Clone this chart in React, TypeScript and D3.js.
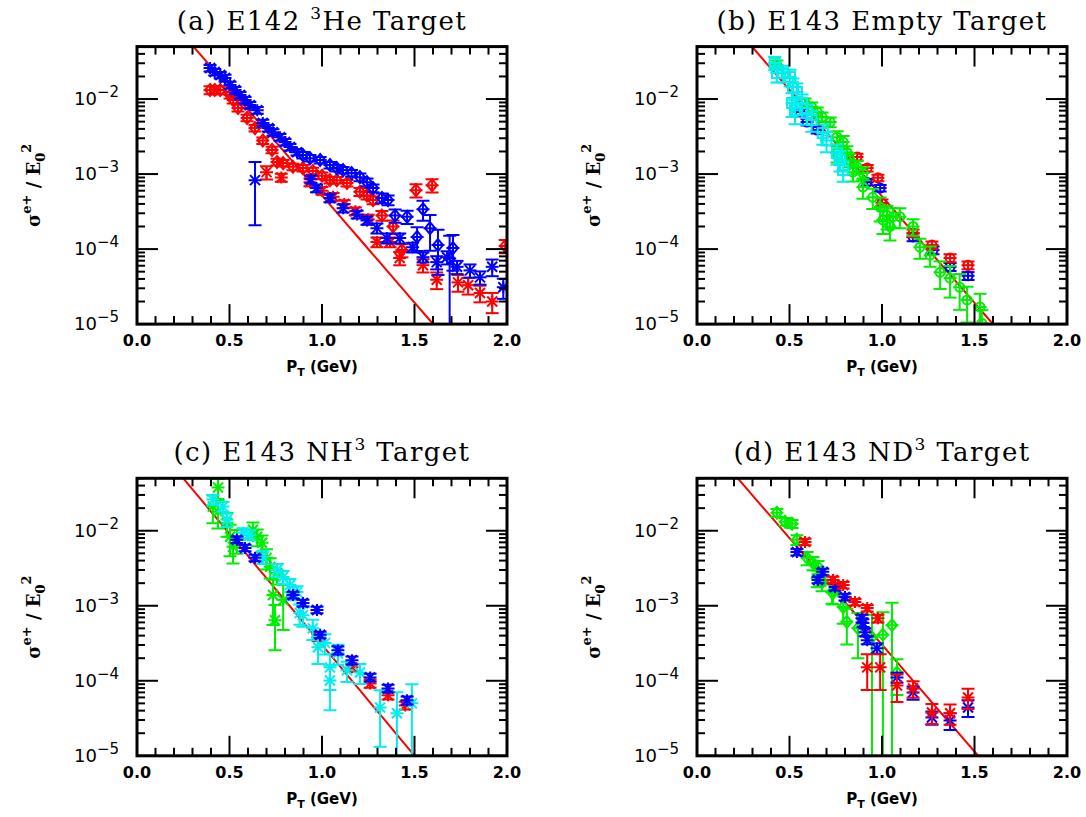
import React from 'react';
import * as d3 from 'd3';

type Pt = [number, number, number]; // [pT (GeV), sigma/E0^2, relative error]

// ---------- axes ----------
const xMajorTicks = [0, 0.5, 1.0, 1.5, 2.0];
const xTickLabels = ['0.0', '0.5', '1.0', '1.5', '2.0'];
const yDecades = [-2, -3, -4, -5];
const yDomain: [number, number] = [1e-5, 0.05];
const xDomain: [number, number] = [0, 2];

// ---------- fit lines: log10(v) = a + b*pT ----------
const fitA = { a: -0.43, b: -2.855 };
const fitB = { a: -0.458, b: -2.839 };
const fitC = { a: -0.561, b: -2.959 };
const fitD = { a: -0.675, b: -2.845 };

// ---------- (a) E142 3He ----------
const aBlueStar: Pt[] = [
  [0.395, 0.0259, 0.1], [0.42, 0.0229, 0.1], [0.45, 0.0209, 0.1], [0.476, 0.0191, 0.1],
  [0.503, 0.0154, 0.1], [0.53, 0.0132, 0.1], [0.557, 0.0113, 0.1], [0.584, 0.0097, 0.1],
  [0.61, 0.0083, 0.1], [0.65, 0.0071, 0.1], [0.68, 0.0048, 0.1], [0.71, 0.0041, 0.1],
  [0.735, 0.0036, 0.1], [0.773, 0.0031, 0.1], [0.8, 0.00267, 0.1], [0.827, 0.00229, 0.1],
  [0.865, 0.00196, 0.1], [0.638, 0.00083, 0.75],
  [0.94, 0.00085, 0.12], [0.97, 0.00065, 0.12], [1.043, 0.00048, 0.12], [1.114, 0.00035, 0.12],
  [1.19, 0.00029, 0.12], [1.243, 0.00024, 0.12], [1.297, 0.00019, 0.15], [1.35, 0.00014, 0.15],
  [1.42, 0.00014, 0.15], [1.49, 0.000106, 0.15], [1.546, 0.000078, 0.15], [1.62, 0.000067, 0.2],
  [1.676, 0.000078, 0.2], [1.73, 0.000058, 0.2], [1.8, 0.000052, 0.2], [1.854, 0.000042, 0.2],
  [1.92, 0.000058, 0.25], [1.98, 0.000031, 0.3],
];
const aBlueDiamond: Pt[] = [
  [0.897, 0.00179, 0.1], [0.935, 0.00163, 0.1], [0.99, 0.00154, 0.1], [1.043, 0.00132, 0.1],
  [1.08, 0.0012, 0.1], [1.114, 0.00113, 0.1], [1.16, 0.00103, 0.1], [1.205, 0.00091, 0.12],
  [1.243, 0.00078, 0.12], [1.276, 0.00065, 0.12], [1.324, 0.00048, 0.15], [1.357, 0.00045, 0.15],
  [1.395, 0.00028, 0.2], [1.46, 0.00027, 0.2], [1.514, 0.000145, 0.35], [1.546, 0.00034, 0.3],
  [1.584, 0.00019, 0.5], [1.627, 0.000113, 0.6], [1.69, 0.000075, 1.0], [1.708, 0.000103, 0.5],
];
const aRedDiamond: Pt[] = [
  [0.395, 0.0132, 0.12], [0.42, 0.0132, 0.12], [0.45, 0.0132, 0.12], [0.503, 0.0113, 0.1],
  [0.52, 0.0097, 0.1], [0.546, 0.0076, 0.1], [0.595, 0.0056, 0.1], [0.638, 0.0041, 0.1],
  [0.68, 0.0028, 0.1], [0.73, 0.0021, 0.1], [0.757, 0.00145, 0.1], [0.79, 0.0014, 0.1],
  [0.843, 0.00125, 0.1], [0.897, 0.0012, 0.1], [0.95, 0.0011, 0.1], [1.0, 0.00095, 0.1],
  [1.043, 0.00083, 0.1], [1.08, 0.00083, 0.1], [1.135, 0.00076, 0.1], [1.205, 0.00058, 0.12],
  [1.243, 0.00052, 0.12], [1.276, 0.00045, 0.12], [1.324, 0.00028, 0.15], [1.384, 0.0002, 0.2],
  [1.432, 0.000097, 0.2], [1.508, 0.00061, 0.2], [1.595, 0.00071, 0.2], [1.99, 0.00011, 0.2],
];
const aRedStar: Pt[] = [
  [0.70, 0.00106, 0.2], [0.78, 0.0009, 0.12], [0.935, 0.00078, 0.12], [1.0, 0.0006, 0.12],
  [1.06, 0.0005, 0.12], [1.12, 0.0004, 0.12], [1.18, 0.00032, 0.12], [1.25, 0.00025, 0.15],
  [1.297, 0.000124, 0.15], [1.368, 0.000124, 0.15], [1.42, 0.000076, 0.2], [1.546, 0.000061, 0.2],
  [1.62, 0.000039, 0.25], [1.735, 0.000036, 0.25], [1.79, 0.000033, 0.25], [1.854, 0.000026, 0.25],
  [1.92, 0.00002, 0.3],
];

// ---------- (b) E143 Empty ----------
const bCyanSquare: Pt[] = [
  [0.42, 0.0302, 0.2], [0.432, 0.0222, 0.25], [0.465, 0.0222, 0.25], [0.503, 0.0196, 0.25],
  [0.519, 0.0144, 0.3], [0.54, 0.0124, 0.3], [0.514, 0.00885, 0.35], [0.568, 0.00885, 0.3],
  [0.53, 0.0071, 0.35], [0.595, 0.0065, 0.3], [0.62, 0.00525, 0.3], [0.68, 0.00352, 0.3],
  [0.70, 0.0028, 0.3], [0.757, 0.0019, 0.3], [0.773, 0.00154, 0.3], [0.79, 0.00113, 0.3],
];
const bGreenCircle: Pt[] = [
  [0.432, 0.0284, 0.15], [0.584, 0.00885, 0.15], [0.62, 0.00782, 0.15], [0.65, 0.0067, 0.15],
  [0.676, 0.00575, 0.15], [0.72, 0.00494, 0.15], [0.757, 0.0031, 0.2], [0.79, 0.00267, 0.2],
  [0.757, 0.0019, 0.25], [0.81, 0.00196, 0.2], [0.827, 0.00154, 0.2], [0.865, 0.00124, 0.2],
  [0.897, 0.00103, 0.2], [0.843, 0.00106, 0.25], [0.897, 0.00067, 0.3], [0.95, 0.00049, 0.3],
  [0.99, 0.00036, 0.35], [1.005, 0.000244, 0.35], [1.027, 0.00028, 0.35], [1.043, 0.0002, 0.35],
  [1.06, 0.00027, 0.3], [1.097, 0.00027, 0.3], [1.168, 0.0002, 0.25], [1.205, 0.000106, 0.3],
  [1.26, 0.000083, 0.3], [1.314, 0.000049, 0.4], [1.368, 0.000041, 0.45], [1.42, 0.000031, 0.5],
  [1.46, 0.000021, 0.5], [1.53, 0.0000169, 0.5], [1.54, 0.0000103, 0.5],
];
const bBlueCircle: Pt[] = [
  [0.557, 0.0067, 0.1], [0.595, 0.00494, 0.1], [0.65, 0.00386, 0.1], [0.92, 0.00078, 0.1],
  [0.99, 0.00065, 0.1], [1.168, 0.000145, 0.12], [1.276, 0.000097, 0.12], [1.368, 0.000058, 0.12],
  [1.465, 0.000044, 0.12],
];
const bRedCircle: Pt[] = [
  [0.865, 0.00169, 0.1], [0.92, 0.0012, 0.1], [0.978, 0.00089, 0.1], [1.0, 0.00041, 0.12],
  [1.168, 0.000163, 0.12], [1.27, 0.000113, 0.12], [1.368, 0.000076, 0.12], [1.465, 0.000061, 0.12],
];

// ---------- (c) E143 NH3 ----------
const cGreenStar: Pt[] = [
  [0.438, 0.0377, 0.3], [0.41, 0.021, 0.4], [0.438, 0.0179, 0.4], [0.486, 0.0128, 0.35],
  [0.503, 0.0083, 0.45], [0.519, 0.0061, 0.4], [0.54, 0.0076, 0.35], [0.627, 0.0103, 0.25],
  [0.65, 0.0083, 0.25], [0.676, 0.0069, 0.25], [0.70, 0.00435, 0.3], [0.72, 0.0033, 0.3],
  [0.757, 0.00274, 0.3], [0.735, 0.00139, 0.6], [0.79, 0.00119, 0.6], [0.746, 0.00064, 0.6],
];
const cCyanStar: Pt[] = [
  [0.41, 0.026, 0.15], [0.465, 0.021, 0.15], [0.486, 0.014, 0.2], [0.573, 0.0094, 0.15],
  [0.61, 0.0088, 0.15], [0.68, 0.0045, 0.2], [0.757, 0.003, 0.2], [0.79, 0.00242, 0.2],
  [0.827, 0.00189, 0.2], [0.865, 0.00152, 0.2], [0.843, 0.00148, 0.2], [0.88, 0.0008, 0.3],
  [0.897, 0.00075, 0.3], [0.95, 0.0005, 0.3], [0.978, 0.00028, 0.4], [1.016, 0.00032, 0.3],
  [1.043, 0.000151, 0.5], [1.043, 0.000101, 0.6], [1.086, 0.000233, 0.3], [1.135, 0.000138, 0.3],
  [1.205, 0.000129, 0.3], [1.314, 0.000044, 0.7], [1.405, 0.000037, 0.9], [1.486, 0.00005, 0.8],
];
const cBlueStar: Pt[] = [
  [0.54, 0.0076, 0.1], [0.584, 0.0059, 0.1], [0.638, 0.00435, 0.1], [0.843, 0.00139, 0.1],
  [0.897, 0.00109, 0.1], [0.973, 0.00088, 0.1], [0.99, 0.00041, 0.1], [1.086, 0.000255, 0.12],
  [1.162, 0.000188, 0.12], [1.26, 0.000111, 0.12], [1.357, 0.000079, 0.12], [1.46, 0.000055, 0.12],
];
const cRedStar: Pt[] = [
  [0.978, 0.00038, 0.1], [1.162, 0.000151, 0.12], [1.26, 0.000092, 0.12], [1.357, 0.000064, 0.12],
  [1.45, 0.000047, 0.12],
];

// ---------- (d) E143 ND3 ----------
const dGreenDiamond: Pt[] = [
  [0.432, 0.0174, 0.12], [0.476, 0.0132, 0.12], [0.514, 0.0124, 0.12], [0.54, 0.0076, 0.15],
  [0.595, 0.00435, 0.2], [0.627, 0.00373, 0.2], [0.654, 0.0033, 0.2], [0.65, 0.00235, 0.25],
  [0.676, 0.00208, 0.25], [0.665, 0.00242, 0.25], [0.73, 0.00152, 0.3], [0.735, 0.00148, 0.3],
  [0.79, 0.00096, 0.4], [0.81, 0.00061, 0.5], [0.87, 0.0005, 0.6], [0.946, 0.00038, 1.0],
  [1.005, 0.00041, 1.0], [1.054, 0.00055, 1.0], [1.081, 0.000129, 0.5],
];
const dRedStar: Pt[] = [
  [0.584, 0.0071, 0.1], [0.735, 0.00221, 0.1], [0.79, 0.00189, 0.1], [0.854, 0.00112, 0.1],
  [0.92, 0.00093, 0.1], [0.978, 0.00068, 0.12], [0.92, 0.000151, 0.5], [0.99, 0.000151, 0.5],
  [1.081, 0.0000867, 0.4], [1.168, 0.000079, 0.25], [1.27, 0.0000378, 0.3], [1.368, 0.000037, 0.3],
  [1.465, 0.00006, 0.3],
];
const dBlueStar: Pt[] = [
  [0.54, 0.0052, 0.1], [0.654, 0.00221, 0.1], [0.68, 0.00283, 0.1], [0.746, 0.00178, 0.1],
  [0.80, 0.00131, 0.1], [0.897, 0.00059, 0.12], [0.892, 0.00068, 0.12], [0.908, 0.000445, 0.12],
  [0.92, 0.000348, 0.12], [0.973, 0.000272, 0.15], [1.081, 0.000111, 0.15], [1.168, 0.00007, 0.2],
  [1.27, 0.0000324, 0.2], [1.368, 0.0000295, 0.25], [1.465, 0.000044, 0.25],
];

const BLUE = '#0000ff';
const RED = '#ff0000';
const GREEN = '#00ee00';
const CYAN = '#00eeee';

type Kind = 'diamond' | 'star' | 'circle' | 'square';
interface Series { data: Pt[]; color: string; kind: Kind }
interface Panel {
  id: string; label: string; sup: string; rest: string;
  x0: number; y0: number; fit: { a: number; b: number }; series: Series[];
}

const W = 370, H = 277.5;
const panels: Panel[] = [
  { id: 'a', label: '(a) E142 ', sup: '3', rest: 'He Target', x0: 137, y0: 46.6, fit: fitA,
    series: [
      { data: aRedStar, color: RED, kind: 'star' },
      { data: aRedDiamond, color: RED, kind: 'diamond' },
      { data: aBlueDiamond, color: BLUE, kind: 'diamond' },
      { data: aBlueStar, color: BLUE, kind: 'star' },
    ] },
  { id: 'b', label: '(b) E143 Empty Target', sup: '', rest: '', x0: 697, y0: 46.6, fit: fitB,
    series: [
      { data: bBlueCircle, color: BLUE, kind: 'circle' },
      { data: bRedCircle, color: RED, kind: 'circle' },
      { data: bGreenCircle, color: GREEN, kind: 'circle' },
      { data: bCyanSquare, color: CYAN, kind: 'square' },
    ] },
  { id: 'c', label: '(c) E143 NH', sup: '3', rest: ' Target', x0: 137, y0: 478.3, fit: fitC,
    series: [
      { data: cGreenStar, color: GREEN, kind: 'star' },
      { data: cRedStar, color: RED, kind: 'star' },
      { data: cCyanStar, color: CYAN, kind: 'star' },
      { data: cBlueStar, color: BLUE, kind: 'star' },
    ] },
  { id: 'd', label: '(d) E143 ND', sup: '3', rest: ' Target', x0: 697, y0: 478.3, fit: fitD,
    series: [
      { data: dGreenDiamond, color: GREEN, kind: 'diamond' },
      { data: dBlueStar, color: BLUE, kind: 'star' },
      { data: dRedStar, color: RED, kind: 'star' },
    ] },
];

function marker(kind: Kind, cx: number, cy: number, color: string, key: string) {
  const s = 5;
  const common = { stroke: color, strokeWidth: 2, fill: 'none' } as const;
  if (kind === 'diamond')
    return <path key={key} {...common} d={`M${cx},${cy - s - 1}L${cx + s},${cy}L${cx},${cy + s + 1}L${cx - s},${cy}Z`} />;
  if (kind === 'circle') return <circle key={key} {...common} cx={cx} cy={cy} r={4.5} />;
  if (kind === 'square') return <rect key={key} {...common} x={cx - 5} y={cy - 5} width={10} height={10} />;
  return <path key={key} {...common} d={`M${cx - s},${cy - s}L${cx + s},${cy + s}M${cx - s},${cy + s}L${cx + s},${cy - s}M${cx},${cy - s - 1}L${cx},${cy + s + 1}`} />;
}

function PanelView({ p }: { p: Panel }) {
  const x1 = p.x0 + W, y1 = p.y0 + H;
  const x = d3.scaleLinear().domain(xDomain).range([p.x0, x1]);
  const y = d3.scaleLog().domain(yDomain).range([y1, p.y0]);
  const minorX = d3.range(0, 2.0001, 0.1).filter(v => Math.abs(v * 2 - Math.round(v * 2)) > 1e-6);
  const minorY: number[] = [];
  for (let d = -5; d <= -2; d++) for (let m = 2; m <= 9; m++) { const v = m * Math.pow(10, d); if (v <= yDomain[1]) minorY.push(v); }
  const clipId = `clip-${p.id}`;
  const fitLine = d3.line<number>().x(v => x(v)).y(v => y(Math.pow(10, p.fit.a + p.fit.b * v)));
  const pts = d3.range(0, 2.0001, 0.05);
  const capW = 6.5;
  const cx = p.x0 + W / 2;
  const cy = p.y0 + H / 2;
  return (
    <g>
      <defs><clipPath id={clipId}><rect x={p.x0} y={p.y0} width={W} height={H} /></clipPath></defs>
      {/* title */}
      <text x={cx} y={p.y0 - 17} textAnchor="middle" fontFamily="DejaVu Serif" fontSize={26} letterSpacing={1.4}>
        {p.label}{p.sup && <tspan dy={-11} fontSize={17}>{p.sup}</tspan>}{p.rest && <tspan dy={p.sup ? 11 : 0}>{p.rest}</tspan>}
      </text>
      {/* data */}
      <g clipPath={`url(#${clipId})`}>
        <path d={fitLine(pts) || ''} stroke={RED} strokeWidth={2} fill="none" />
        {p.series.map((s, si) => (
          <g key={si}>
            {s.data.map((d, i) => {
              const px = x(d[0]);
              const py = y(d[1]);
              const hiV = d[1] * (1 + d[2]);
              const loV = d[1] * (1 - d[2]);
              const yh = y(hiV);
              const yl = loV > 0 ? y(Math.max(loV, 1e-7)) : y1 + 10;
              return (
                <g key={i} stroke={s.color} strokeWidth={2}>
                  <line x1={px} x2={px} y1={yh} y2={yl} />
                  <line x1={px - capW} x2={px + capW} y1={yh} y2={yh} />
                  {loV > 0 && <line x1={px - capW} x2={px + capW} y1={yl} y2={yl} />}
                  <line x1={px - capW} x2={px + capW} y1={py} y2={py} />
                  {marker(s.kind, px, py, s.color, `m${i}`)}
                </g>
              );
            })}
          </g>
        ))}
      </g>
      {/* ticks */}
      <g stroke="#000" strokeWidth={2}>
        {xMajorTicks.map(t => (
          <g key={`xM${t}`}>
            <line x1={x(t)} x2={x(t)} y1={y1} y2={y1 - 20} />
            <line x1={x(t)} x2={x(t)} y1={p.y0} y2={p.y0 + 20} />
          </g>
        ))}
        {minorX.map(t => (
          <g key={`xm${t}`}>
            <line x1={x(t)} x2={x(t)} y1={y1} y2={y1 - 8} />
            <line x1={x(t)} x2={x(t)} y1={p.y0} y2={p.y0 + 8} />
          </g>
        ))}
        {yDecades.map(dc => (
          <g key={`yM${dc}`}>
            <line x1={p.x0} x2={p.x0 + 21} y1={y(Math.pow(10, dc))} y2={y(Math.pow(10, dc))} />
            <line x1={x1} x2={x1 - 21} y1={y(Math.pow(10, dc))} y2={y(Math.pow(10, dc))} />
          </g>
        ))}
        {minorY.map(v => (
          <g key={`ym${v}`}>
            <line x1={p.x0} x2={p.x0 + 8} y1={y(v)} y2={y(v)} />
            <line x1={x1} x2={x1 - 8} y1={y(v)} y2={y(v)} />
          </g>
        ))}
      </g>
      <rect x={p.x0} y={p.y0} width={W} height={H} fill="none" stroke="#000" strokeWidth={3} />
      {/* tick labels */}
      {xMajorTicks.map((t, i) => (
        <text key={`xl${t}`} x={x(t)} y={y1 + 22} textAnchor="middle" fontFamily="DejaVu Sans" fontWeight="bold" fontSize={16}>{xTickLabels[i]}</text>
      ))}
      {yDecades.map(dc => (
        <text key={`yl${dc}`} x={p.x0 - 18} y={y(Math.pow(10, dc)) + 6} textAnchor="end" fontFamily="DejaVu Sans" fontSize={18}>
          10<tspan dy={-8} fontSize={15}>{`\u2212${-dc}`}</tspan>
        </text>
      ))}
      {/* axis titles */}
      <text x={cx} y={y1 + 48} textAnchor="middle" fontFamily="DejaVu Sans" fontWeight="bold" fontSize={15}>
        P<tspan dy={4} fontSize={11}>T</tspan><tspan dy={-4}> (GeV)</tspan>
      </text>
      <text transform={`translate(${p.x0 - 97},${cy}) rotate(-90)`} textAnchor="middle" fontFamily="DejaVu Serif" fontWeight="bold" fontSize={18}>
        {'\u03c3'}<tspan dy={-9} fontSize={13}>e+</tspan><tspan dy={9}> / E</tspan><tspan dy={5} fontSize={13}>0</tspan><tspan dy={-14} fontSize={13}>2</tspan>
      </text>
    </g>
  );
}

export default function App() {
  return (
    <svg width={1086} height={817} viewBox="0 0 1086 817" style={{ display: 'block', position: 'absolute', left: 0, top: 0, background: '#fff' }}>
      <rect x={0} y={0} width={1086} height={817} fill="#fff" />
      {panels.map(p => <PanelView key={p.id} p={p} />)}
    </svg>
  );
}
